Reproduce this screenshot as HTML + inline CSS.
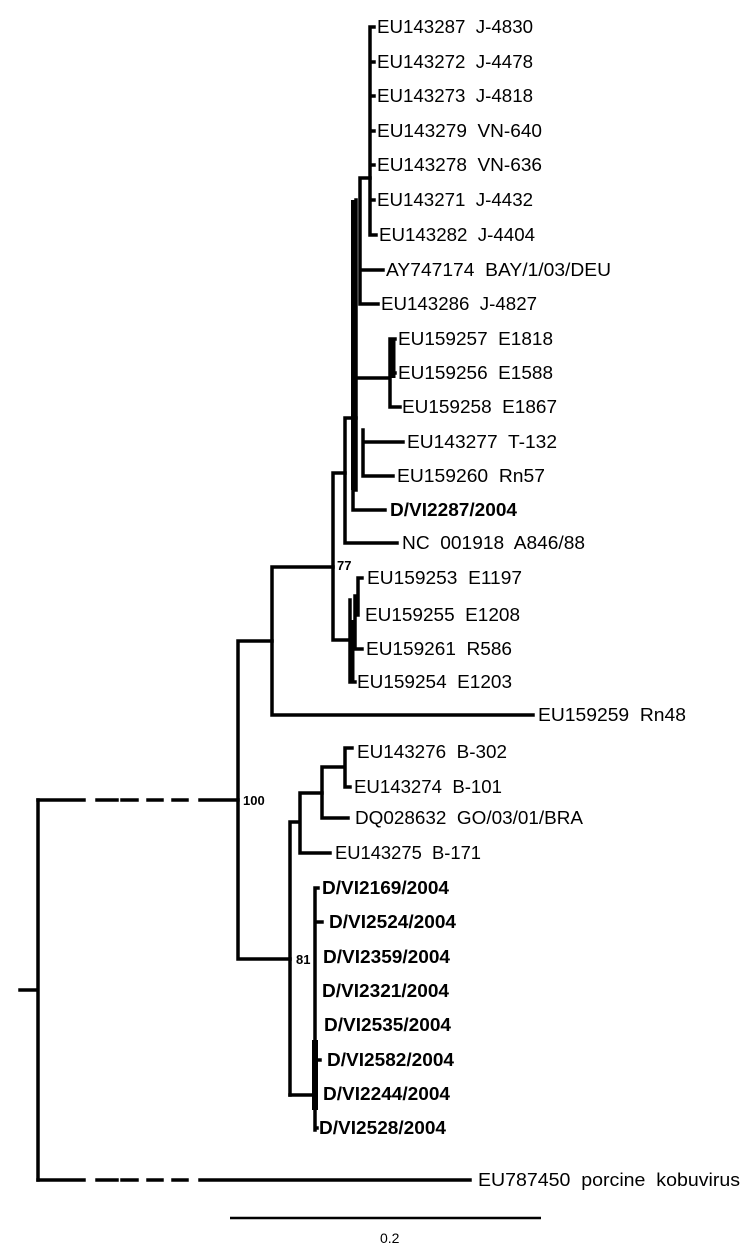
<!DOCTYPE html>
<html><head><meta charset="utf-8"><style>
html,body{margin:0;padding:0;background:#fff;}
svg{display:block;}
text{font-family:"Liberation Sans",Arial,sans-serif;font-size:18px;fill:#000;white-space:pre;}
.b{font-weight:bold;}
.s{font-size:14px;}
.n{font-size:13px;font-weight:bold;}
</style></head><body>
<svg width="750" height="1253" viewBox="0 0 750 1253" xmlns="http://www.w3.org/2000/svg">
<g stroke="#000" stroke-width="3.5" fill="none" stroke-linecap="square">
<path d="M20 990H38M38 800V1180"/>
<path d="M38 800H84M97 800H117M122 800H137M148 800H162M173 800H187M200 800H238"/>
<path d="M38 1180H84M97 1180H117M122 1180H137M148 1180H162M173 1180H187M200 1180H470"/>
<path d="M238 641V959M238 641H272M238 959H290"/>
<path d="M272 567V715M272 567H333M272 715H533"/>
<path d="M333 473V640M333 473H345M333 640H350"/>
<path d="M345 418V543M345 418H356M345 543H397"/>
<path d="M353 420V510M353 510H385"/>
<path d="M356 200V490"/>
<path d="M360 178V304M360 178H370M360 270H383M360 304H378"/>
<path d="M370 27V235M370 27H374M370 62H374M370 96H374M370 131H374M370 165H374M370 200H374M370 235H376"/>
<path d="M356 378H390M390 339V407M390 339H395M390 373H395M390 407H400"/>
<path d="M363 430V476M363 442H403M363 476H393"/>
<path d="M350 600V682M350 682H355M355 596V649M355 649H362M358 578V615M358 578H362"/>
<path d="M290 822V1095M290 822H300M300 793V853M300 793H322M300 853H330"/>
<path d="M322 767V818M322 767H345M322 818H348M345 748V787M345 748H352M345 787H350"/>
<path d="M290 1095H315M315 888V1130M315 888H318M315 922H322M315 1060H320M315 1128H317"/>
</g>
<path d="M354 200V490" stroke="#000" stroke-width="6"/>
<path d="M393 339V378" stroke="#000" stroke-width="5"/>
<path d="M315 1040V1110" stroke="#000" stroke-width="6"/>
<path d="M352 620V682" stroke="#000" stroke-width="5"/>
<path d="M230 1218H541" stroke="#000" stroke-width="2.5"/>
<text x="377" y="33" textLength="156" lengthAdjust="spacingAndGlyphs">EU143287  J-4830</text>
<text x="377" y="68" textLength="156" lengthAdjust="spacingAndGlyphs">EU143272  J-4478</text>
<text x="377" y="102" textLength="156" lengthAdjust="spacingAndGlyphs">EU143273  J-4818</text>
<text x="377" y="137" textLength="165" lengthAdjust="spacingAndGlyphs">EU143279  VN-640</text>
<text x="377" y="171" textLength="165" lengthAdjust="spacingAndGlyphs">EU143278  VN-636</text>
<text x="377" y="206" textLength="156" lengthAdjust="spacingAndGlyphs">EU143271  J-4432</text>
<text x="379" y="241" textLength="156" lengthAdjust="spacingAndGlyphs">EU143282  J-4404</text>
<text x="386" y="276" textLength="225" lengthAdjust="spacingAndGlyphs">AY747174  BAY/1/03/DEU</text>
<text x="381" y="310" textLength="156" lengthAdjust="spacingAndGlyphs">EU143286  J-4827</text>
<text x="398" y="345" textLength="155" lengthAdjust="spacingAndGlyphs">EU159257  E1818</text>
<text x="398" y="379" textLength="155" lengthAdjust="spacingAndGlyphs">EU159256  E1588</text>
<text x="402" y="413" textLength="155" lengthAdjust="spacingAndGlyphs">EU159258  E1867</text>
<text x="407" y="448" textLength="150" lengthAdjust="spacingAndGlyphs">EU143277  T-132</text>
<text x="397" y="482" textLength="148" lengthAdjust="spacingAndGlyphs">EU159260  Rn57</text>
<text x="390" y="516" class="b" textLength="127" lengthAdjust="spacingAndGlyphs">D/VI2287/2004</text>
<text x="402" y="549" textLength="183" lengthAdjust="spacingAndGlyphs">NC  001918  A846/88</text>
<text x="367" y="584" textLength="155" lengthAdjust="spacingAndGlyphs">EU159253  E1197</text>
<text x="365" y="621" textLength="155" lengthAdjust="spacingAndGlyphs">EU159255  E1208</text>
<text x="366" y="655" textLength="146" lengthAdjust="spacingAndGlyphs">EU159261  R586</text>
<text x="357" y="688" textLength="155" lengthAdjust="spacingAndGlyphs">EU159254  E1203</text>
<text x="538" y="721" textLength="148" lengthAdjust="spacingAndGlyphs">EU159259  Rn48</text>
<text x="357" y="758" textLength="150" lengthAdjust="spacingAndGlyphs">EU143276  B-302</text>
<text x="354" y="793" textLength="148" lengthAdjust="spacingAndGlyphs">EU143274  B-101</text>
<text x="355" y="824" textLength="228" lengthAdjust="spacingAndGlyphs">DQ028632  GO/03/01/BRA</text>
<text x="335" y="859" textLength="146" lengthAdjust="spacingAndGlyphs">EU143275  B-171</text>
<text x="322" y="894" class="b" textLength="127" lengthAdjust="spacingAndGlyphs">D/VI2169/2004</text>
<text x="329" y="928" class="b" textLength="127" lengthAdjust="spacingAndGlyphs">D/VI2524/2004</text>
<text x="323" y="963" class="b" textLength="127" lengthAdjust="spacingAndGlyphs">D/VI2359/2004</text>
<text x="322" y="997" class="b" textLength="127" lengthAdjust="spacingAndGlyphs">D/VI2321/2004</text>
<text x="324" y="1031" class="b" textLength="127" lengthAdjust="spacingAndGlyphs">D/VI2535/2004</text>
<text x="327" y="1066" class="b" textLength="127" lengthAdjust="spacingAndGlyphs">D/VI2582/2004</text>
<text x="323" y="1100" class="b" textLength="127" lengthAdjust="spacingAndGlyphs">D/VI2244/2004</text>
<text x="319" y="1134" class="b" textLength="127" lengthAdjust="spacingAndGlyphs">D/VI2528/2004</text>
<text x="478" y="1186" textLength="262" lengthAdjust="spacingAndGlyphs">EU787450  porcine  kobuvirus</text>
<text x="337" y="570" class="n">77</text>
<text x="243" y="805" class="n">100</text>
<text x="296" y="964" class="n">81</text>
<text x="380" y="1243" class="s">0.2</text>
</svg>
</body></html>
